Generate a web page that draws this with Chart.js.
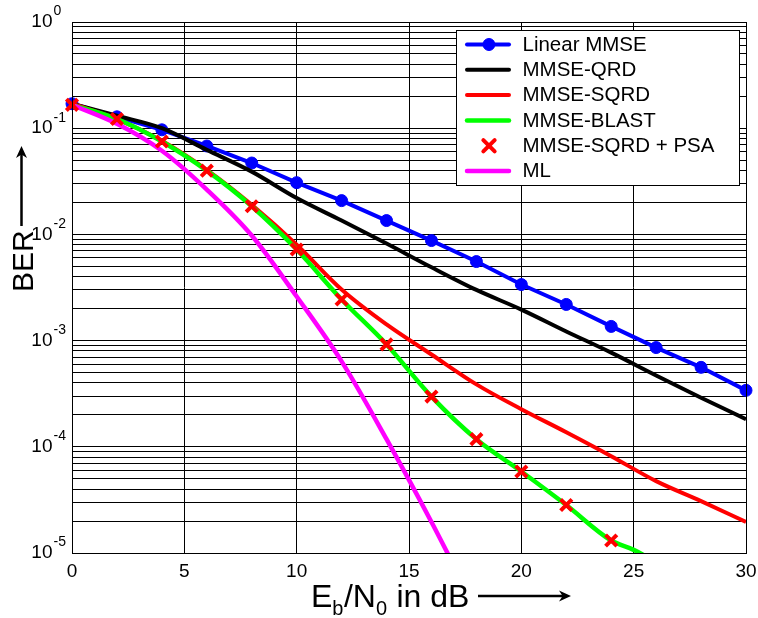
<!DOCTYPE html>
<html>
<head>
<meta charset="utf-8">
<title>BER vs Eb/N0</title>
<script src="https://cdn.jsdelivr.net/npm/chart.js@4.4.0/dist/chart.umd.min.js"></script>
<style>
    html, body { margin: 0; padding: 0; background: #fff; }
    #berChart { display: block; }
</style>
</head>
<body>
<canvas id="berChart" width="758" height="618"></canvas>
<script>
/**
 * BER curves of MMSE detectors (log scale)
 */
const FONT = "'Liberation Sans', Arial, sans-serif";

// Eb/N0 in dB
const snrEven = [0, 2, 4, 6, 8, 10, 12, 14, 16, 18, 20, 22, 24, 26, 28, 30];
const snrBlast = [0, 2, 4, 6, 8, 10, 12, 14, 16, 18, 20, 22, 24, 25, 26];
const snrPsa = [0, 2, 4, 6, 8, 10, 12, 14, 16, 18, 20, 22, 24];
const snrMl = [0, 2, 4, 6, 8, 10, 12, 14, 16, 17];

// BER values
const berLinearMmse = [0.17, 0.128, 0.0966, 0.068, 0.047, 0.0307, 0.0208, 0.0135, 0.00875, 0.00555, 0.00337, 0.00219, 0.00136, 0.00086, 0.00056, 0.00034];
const berMmseQrd = [0.17, 0.131, 0.1, 0.0625, 0.039, 0.022, 0.0135, 0.0082, 0.0049, 0.003, 0.00196, 0.00122, 0.00077, 0.00047, 0.00029, 0.000182];
const berMmseSqrd = [0.17, 0.122, 0.076, 0.0405, 0.019, 0.008, 0.00303, 0.00142, 0.00074, 0.000387, 0.000226, 0.000137, 0.0000816, 0.0000475, 0.0000308, 0.0000196];
const berMmseBlast = [0.166, 0.122, 0.075, 0.0398, 0.0184, 0.0072, 0.00244, 0.00092, 0.000297, 0.000118, 0.0000586, 0.0000283, 0.0000131, 0.0000107, 0.0000082];
const berSqrdPsa = [0.166, 0.122, 0.075, 0.0398, 0.0184, 0.0072, 0.00244, 0.00092, 0.000297, 0.000118, 0.0000586, 0.0000283, 0.0000131];
const berMl = [0.166, 0.11, 0.0613, 0.0264, 0.00975, 0.0026, 0.000638, 0.000118, 0.0000196, 0.0000076];

const seriesLabels = ['Linear MMSE', 'MMSE-QRD', 'MMSE-SQRD', 'MMSE-BLAST', 'MMSE-SQRD + PSA', 'ML'];

// axis ticks
const xTicks = [0, 5, 10, 15, 20, 25, 30];
const yDecades = [0, -1, -2, -3, -4, -5];
const yGridTicks = [];
for (let e = -5; e < 0; e++) {
    for (let k = 1; k <= 9; k++) yGridTicks.push(k * Math.pow(10, e));
}
yGridTicks.push(1);

function pts(xs, ys) {
    return xs.map((x, i) => ({ x: x, y: ys[i] }));
}

const markerClip = { left: 12, right: 12, top: 12, bottom: 0 };

const datasets = [
    {
        label: seriesLabels[0], data: pts(snrEven, berLinearMmse),
        borderColor: '#0000ff', backgroundColor: '#0000ff', borderWidth: 4,
        pointStyle: 'circle', pointRadius: 6, pointBorderWidth: 1,
        clip: markerClip, order: 5
    },
    {
        label: seriesLabels[1], data: pts(snrEven, berMmseQrd),
        borderColor: '#000000', borderWidth: 4, pointRadius: 0,
        cubicInterpolationMode: 'monotone', order: 4
    },
    {
        label: seriesLabels[2], data: pts(snrEven, berMmseSqrd),
        borderColor: '#ff0000', borderWidth: 4, pointRadius: 0,
        cubicInterpolationMode: 'monotone', order: 3
    },
    {
        label: seriesLabels[3], data: pts(snrBlast, berMmseBlast),
        borderColor: '#00ff00', borderWidth: 4.5, pointRadius: 0,
        cubicInterpolationMode: 'monotone', order: 2
    },
    {
        label: seriesLabels[4], data: pts(snrPsa, berSqrdPsa),
        borderColor: '#ff0000', backgroundColor: '#ff0000', showLine: false,
        pointStyle: 'crossRot', pointRadius: 8, pointBorderWidth: 4,
        clip: markerClip, order: 0
    },
    {
        label: seriesLabels[5], data: pts(snrMl, berMl),
        borderColor: '#ff00ff', borderWidth: 4.5, pointRadius: 0,
        cubicInterpolationMode: 'monotone', order: 1
    }
];

// draws the boxed legend inside the plot, Matlab style
const legendBox = {
    id: 'legendBox',
    afterDatasetsDraw(chart) {
        const ctx = chart.ctx;
        const box = { x: 456.5, y: 30.5, w: 283, h: 155 };
        ctx.save();
        ctx.fillStyle = '#fff';
        ctx.fillRect(box.x, box.y, box.w, box.h);
        ctx.strokeStyle = '#000';
        ctx.lineWidth = 1;
        ctx.strokeRect(box.x, box.y, box.w, box.h);

        ctx.font = '20.5px ' + FONT;
        ctx.textBaseline = 'middle';
        ctx.textAlign = 'left';
        chart.data.datasets.forEach((ds, i) => {
            const y = 44.5 + i * 25.3;
            ctx.lineCap = 'round';
            if (ds.showLine !== false) {
                ctx.strokeStyle = ds.borderColor;
                ctx.lineWidth = ds.borderWidth;
                ctx.beginPath();
                ctx.moveTo(467, y);
                ctx.lineTo(509, y);
                ctx.stroke();
            }
            if (ds.pointRadius > 0) {
                ctx.fillStyle = ds.backgroundColor;
                ctx.strokeStyle = ds.borderColor;
                ctx.lineWidth = ds.pointBorderWidth;
                Chart.helpers.drawPoint(ctx, {
                    pointStyle: ds.pointStyle,
                    radius: ds.pointRadius,
                    borderWidth: ds.pointBorderWidth
                }, 489, y);
            }
            ctx.fillStyle = '#000';
            ctx.fillText(ds.label, 522.5, y + 0.5);
        });
        ctx.restore();
    }
};

function arrow(ctx, x1, y1, x2, y2) {
    const ang = Math.atan2(y2 - y1, x2 - x1);
    const len = 12, half = 5.5;
    ctx.beginPath();
    ctx.moveTo(x1, y1);
    ctx.lineTo(x2 - len * Math.cos(ang) * 0.6, y2 - len * Math.sin(ang) * 0.6);
    ctx.stroke();
    ctx.beginPath();
    ctx.moveTo(x2, y2);
    ctx.lineTo(x2 - len * Math.cos(ang) - half * Math.sin(ang), y2 - len * Math.sin(ang) + half * Math.cos(ang));
    ctx.lineTo(x2 - len * Math.cos(ang) * 0.7, y2 - len * Math.sin(ang) * 0.7);
    ctx.lineTo(x2 - len * Math.cos(ang) + half * Math.sin(ang), y2 - len * Math.sin(ang) - half * Math.cos(ang));
    ctx.closePath();
    ctx.fill();
}

// tick labels with exponents, axis titles with subscripts and arrows
const axisText = {
    id: 'axisText',
    afterDraw(chart) {
        const ctx = chart.ctx;
        const xs = chart.scales.x, ys = chart.scales.y;
        const area = chart.chartArea;
        ctx.save();
        ctx.fillStyle = '#000';
        ctx.strokeStyle = '#000';

        // frame
        ctx.lineWidth = 1;
        ctx.strokeRect(Math.round(area.left) + 0.5, Math.round(area.top) + 0.5,
            Math.round(area.right - area.left), Math.round(area.bottom - area.top));

        // y ticks: 10^e
        ctx.textBaseline = 'middle';
        yDecades.forEach(e => {
            const y = ys.getPixelForValue(Math.pow(10, e));
            ctx.font = '19px ' + FONT;
            ctx.textAlign = 'right';
            ctx.fillText('10', 52.5, y);
            ctx.font = '14px ' + FONT;
            ctx.textAlign = 'left';
            ctx.fillText(e === 0 ? '0' : String(e), 53.5, y - 10.5);
        });

        // x ticks
        ctx.font = '19px ' + FONT;
        ctx.textAlign = 'center';
        xTicks.forEach(v => {
            ctx.fillText(String(v), xs.getPixelForValue(v), 572);
        });

        // x title: E_b/N_0 in dB
        ctx.textAlign = 'left';
        ctx.textBaseline = 'alphabetic';
        const parts = [['E', 0], ['b', 1], ['/N', 0], ['0', 1], [' in dB', 0]];
        let cx = 311;
        parts.forEach(p => {
            ctx.font = (p[1] ? '20px ' : '32px ') + FONT;
            ctx.fillText(p[0], cx, p[1] ? 615 : 607);
            cx += ctx.measureText(p[0]).width + (p[1] ? 0.5 : 0);
        });
        ctx.lineWidth = 2.5;
        arrow(ctx, 478, 596, 571, 596);

        // y title: BER
        ctx.save();
        ctx.translate(33, 292);
        ctx.rotate(-Math.PI / 2);
        ctx.font = '30px ' + FONT;
        ctx.fillText('BER', 0, 0);
        ctx.restore();
        arrow(ctx, 21.5, 226, 21.5, 146);

        ctx.restore();
    }
};

new Chart(document.getElementById('berChart'), {
    type: 'line',
    data: { datasets: datasets },
    options: {
        responsive: false,
        animation: false,
        events: [],
        layout: { padding: { left: 72, top: 22, right: 10, bottom: 65 } },
        plugins: { legend: { display: false }, tooltip: { enabled: false } },
        scales: {
            x: {
                type: 'linear', min: 0, max: 30,
                afterBuildTicks: scale => { scale.ticks = xTicks.map(v => ({ value: v })); },
                ticks: { display: false },
                grid: { color: '#000', lineWidth: 1, drawTicks: false },
                border: { display: true, color: '#000', width: 1 }
            },
            y: {
                type: 'logarithmic', min: 1e-5, max: 1,
                afterBuildTicks: scale => { scale.ticks = yGridTicks.map(v => ({ value: v })); },
                ticks: { display: false },
                grid: { color: '#000', lineWidth: 1, drawTicks: false },
                border: { display: true, color: '#000', width: 1 }
            }
        }
    },
    plugins: [legendBox, axisText]
});
</script>
</body>
</html>
